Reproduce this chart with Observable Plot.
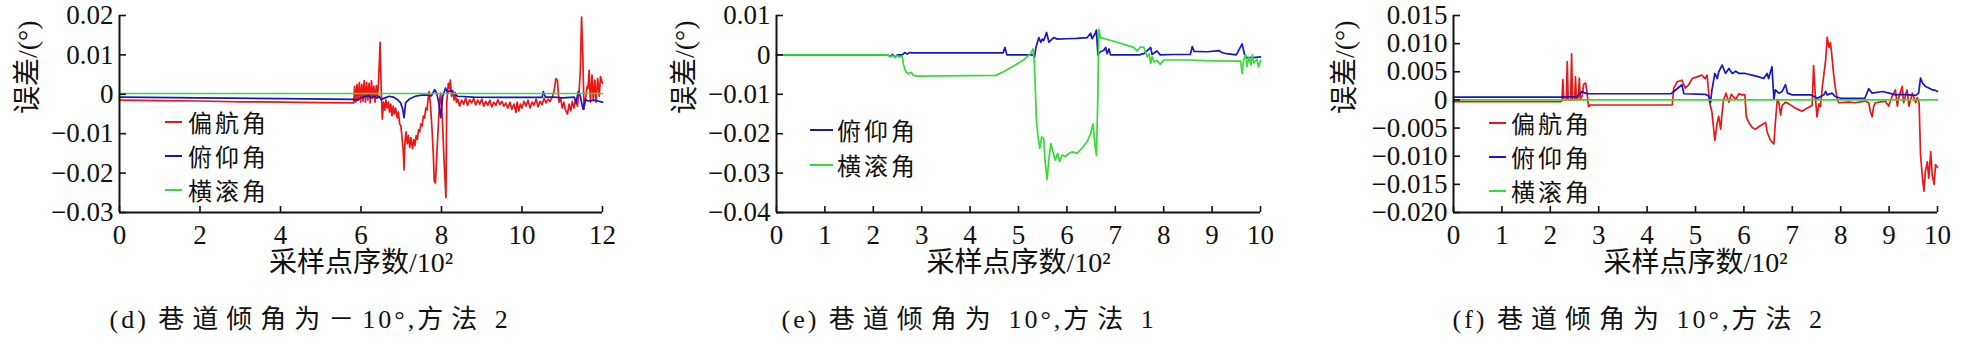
<!DOCTYPE html>
<html><head><meta charset="utf-8">
<script src="https://cdn.jsdelivr.net/npm/d3@7"></script>
<script src="https://cdn.jsdelivr.net/npm/@observablehq/plot@0.6"></script>
<style>
html,body{margin:0;padding:0;background:#fff;}
#root{position:relative;width:1966px;height:344px;overflow:hidden;background:#fff;}
.panel{position:absolute;top:0;height:344px;}
.panel svg text{font-family:"Liberation Serif","Times New Roman",Times,"DejaVu Serif",serif,"Noto Sans CJK SC" !important;}
.legend{position:absolute;display:flex;align-items:center;height:30px;font-family:"Noto Sans CJK SC",sans-serif;font-size:24px;letter-spacing:3px;color:#111;white-space:nowrap;line-height:30px;}
.legend .sw{display:inline-block;height:2px;}
</style></head><body><div id="root"></div>
<script>
// ---------- tick values & labels ----------
const dXTicks = [0, 2, 4, 6, 8, 10, 12];
const dXLabels = ["0", "2", "4", "6", "8", "10", "12"];
const dYTicks = [0.02, 0.01, 0, -0.01, -0.02, -0.03];
const dYLabels = ["0.02", "0.01", "0", "−0.01", "−0.02", "−0.03"];
const eXTicks = [0, 1, 2, 3, 4, 5, 6, 7, 8, 9, 10];
const eXLabels = ["0", "1", "2", "3", "4", "5", "6", "7", "8", "9", "10"];
const eYTicks = [0.01, 0, -0.01, -0.02, -0.03, -0.04];
const eYLabels = ["0.01", "0", "−0.01", "−0.02", "−0.03", "−0.04"];
const fXTicks = [0, 1, 2, 3, 4, 5, 6, 7, 8, 9, 10];
const fXLabels = ["0", "1", "2", "3", "4", "5", "6", "7", "8", "9", "10"];
const fYTicks = [0.015, 0.010, 0.005, 0, -0.005, -0.010, -0.015, -0.020];
const fYLabels = ["0.015", "0.010", "0.005", "0", "−0.005", "−0.010", "−0.015", "−0.020"];

// ---------- texts ----------
const xTitle = "采样点序数/10²";
const yTitle = "误差/(°)";
const captions = ["(d) 巷道倾角为－10°,方法 2", "(e) 巷道倾角为 10°,方法 1", "(f) 巷道倾角为 10°,方法 2"];
const seriesNames = ["偏航角", "俯仰角", "横滚角"];

// ---------- panel (d) series: [sample/100, error] ----------
const dYaw = [[0,-0.0015],[1,-0.0016],[2,-0.0017],[3,-0.0019],[4,-0.002],[5,-0.0021],[5.82,-0.0022],
[5.84,0.002],[5.87,-0.002],[5.9,0.0025],[5.93,-0.0015],[5.96,0.003],[5.99,-0.002],[6.02,0.0025],[6.05,-0.0018],[6.08,0.0035],[6.11,-0.002],[6.14,0.003],[6.17,-0.0015],[6.2,0.0028],[6.23,-0.0022],[6.26,0.0035],[6.29,-0.001],[6.32,0.002],[6.35,-0.002],[6.38,0.0022],[6.41,-0.001],[6.44,0.004],[6.475,0.0132],[6.5,0.002],[6.53,-0.0063],[6.56,-0.002],[6.59,-0.004],[6.62,-0.0015],[6.65,-0.0035],[6.68,-0.002],[6.71,-0.0045],[6.74,-0.0025],[6.77,-0.0055],[6.8,-0.003],[6.83,-0.005],[6.86,-0.0035],[6.9,-0.006],[6.93,-0.0045],[6.96,-0.0075],[6.99,-0.008],[7.02,-0.011],[7.05,-0.0145],[7.07,-0.0192],[7.09,-0.0125],[7.12,-0.0095],[7.15,-0.0125],[7.18,-0.0105],[7.21,-0.0135],[7.24,-0.011],[7.28,-0.0138],[7.31,-0.0115],[7.34,-0.013],[7.37,-0.0105],[7.4,-0.0115],[7.43,-0.009],[7.46,-0.0095],[7.49,-0.0075],[7.52,-0.008],[7.55,-0.0055],[7.58,-0.006],[7.61,-0.0035],[7.64,-0.004],[7.67,-0.001],[7.69,0.0007],[7.72,-0.002],[7.76,-0.008],[7.8,-0.016],[7.82,-0.022],[7.85,-0.0225],[7.88,-0.016],[7.9,-0.0121],[7.93,-0.006],[7.96,-0.001],[7.98,0.0003],[8.02,-0.006],[8.06,-0.016],[8.11,-0.0262],[8.13,-0.002],[8.17,0.0028],[8.2,0.0015],[8.22,0.0036],[8.25,-0.0005],[8.28,0.001],[8.31,-0.0015],[8.34,0.0005],[8.37,-0.002],
[8.4,-0.0012],[8.45,-0.003],[8.5,-0.0015],[8.55,-0.0025],[8.6,-0.001],[8.65,-0.0028],[8.7,-0.0014],[8.75,-0.0022],[8.8,-0.001],[8.85,-0.0027],[8.9,-0.0015],[8.95,-0.0025],[9,-0.0012],[9.05,-0.003],[9.1,-0.0018],[9.15,-0.0028],[9.2,-0.0015],[9.25,-0.0032],[9.3,-0.002],[9.35,-0.0028],[9.4,-0.0014],[9.45,-0.0026],[9.5,-0.0018],[9.55,-0.003],[9.6,-0.0022],[9.65,-0.0035],[9.7,-0.002],[9.75,-0.0038],[9.8,-0.0025],[9.85,-0.0046],[9.88,-0.002],[9.92,-0.0042],[9.96,-0.0025],[10,-0.0035],[10.05,-0.0018],[10.1,-0.003],[10.15,-0.0015],[10.2,-0.0035],[10.25,-0.002],[10.3,-0.0028],[10.35,-0.0012],[10.4,-0.0032],[10.45,-0.0018],[10.5,-0.0026],[10.55,-0.001],[10.6,-0.0022],[10.65,-0.0012],[10.7,-0.0018],[10.75,-0.0008],[10.8,0.001],[10.84,0.004],[10.88,0.0035],[10.92,-0.002],[10.96,-0.001],[11,-0.0035],[11.04,-0.002],[11.08,-0.004],[11.13,-0.005],[11.17,-0.0025],[11.21,-0.0042],[11.25,-0.0018],[11.29,-0.0035],[11.33,-0.0015],[11.38,-0.003],[11.42,0.001],[11.45,0.006],[11.48,0.0196],[11.51,0.01],[11.54,-0.0038],[11.58,-0.001],[11.62,0.002],[11.64,0.0015],[11.67,0.0061],[11.7,-0.002],[11.74,0.0049],[11.77,-0.0013],[11.81,0.0036],[11.84,-0.002],[11.88,0.004],[11.92,-0.0005],[11.95,0.0045],[12,0.0028]];
const dPitch = [[0,-0.0007],[2,-0.0009],[4,-0.0011],[5.82,-0.0013],[5.9,-0.0015],[6,-0.0009],[6.1,-0.0006],[6.2,-0.0004],[6.25,-0.0009],[6.3,-0.0005],[6.4,-0.0009],[6.45,-0.0005],[6.5,-0.0013],[6.6,-0.0009],[6.7,-0.0005],[6.8,-0.0007],[6.9,-0.0013],[6.98,-0.0021],[7.03,-0.0035],[7.07,-0.0059],[7.11,-0.0021],[7.2,-0.0012],[7.35,-0.0005],[7.5,-0.0002],[7.65,-0.0002],[7.75,-0.0004],[7.83,0.0012],[7.88,0.0003],[7.93,-0.002],[7.98,-0.0059],[8.03,-0.0005],[8.1,0.0016],[8.15,0.0005],[8.22,0.001],[8.3,0.0003],[8.4,-0.0005],[8.8,-0.0007],[9.5,-0.0008],[10.5,-0.0008],[10.53,0.0007],[10.58,-0.0007],[10.8,-0.0007],[11,-0.0009],[11.3,-0.0007],[11.34,-0.0021],[11.4,0.0007],[11.45,-0.0005],[11.48,-0.0021],[11.52,-0.0038],[11.58,-0.0013],[11.63,-0.0017],[11.8,-0.0015],[12,-0.002]];
const dRoll = [[0,0.0002],[6,0.0002],[9,0.0002],[12,0.0002]];

// ---------- panel (e) ----------
const ePitch = [[0,0],[2.3,0],[2.35,-0.0004],[2.4,0.0001],[2.45,-0.0006],[2.5,0],[2.6,0],[2.65,0.0006],[2.7,0.0002],[2.75,0.0006],[2.8,0.0005],[4.68,0.0005],[4.72,0.0019],[4.76,0],[5.3,0],[5.33,-0.0006],[5.36,0.0019],[5.42,0.0044],[5.46,0.0032],[5.49,0.004],[5.52,0.0036],[5.58,0.0057],[5.63,0.0032],[5.66,0.0036],[5.73,0.0044],[5.8,0.004],[6,0.0041],[6.2,0.0042],[6.42,0.0044],[6.49,0.0055],[6.52,0.0041],[6.58,0.0053],[6.61,0.0063],[6.64,0],[6.69,0.0008],[6.76,0.0011],[6.8,0.0019],[6.83,0.0003],[6.87,0.0015],[6.9,0],[7.5,0],[7.6,0.0004],[7.73,0.0019],[7.76,0.0001],[7.86,0.001],[7.93,0],[8.2,0.0001],[8.55,0.0001],[8.59,0.0021],[8.63,0.0009],[8.9,0.0008],[9.15,0.0011],[9.2,0.0006],[9.3,0.0003],[9.5,0],[9.62,0.0028],[9.67,0.0001],[9.72,-0.0007],[9.85,-0.0007],[10,-0.0005]];
const eRoll = [[0,0],[2.3,0],[2.35,-0.0005],[2.4,-0.0002],[2.45,-0.0007],[2.5,-0.0002],[2.55,-0.0006],[2.6,-0.0003],[2.62,-0.0023],[2.66,-0.004],[2.72,-0.0048],[2.78,-0.0044],[2.83,-0.0052],[2.9,-0.0054],[4.53,-0.0052],[4.7,-0.0042],[4.9,-0.0028],[5.1,-0.0013],[5.25,0.0003],[5.3,0.0015],[5.33,-0.0022],[5.37,-0.0164],[5.4,-0.0205],[5.44,-0.0237],[5.48,-0.0208],[5.52,-0.0212],[5.55,-0.027],[5.59,-0.0316],[5.63,-0.0262],[5.67,-0.0225],[5.71,-0.0246],[5.76,-0.0267],[5.81,-0.025],[5.85,-0.0271],[5.9,-0.0254],[5.97,-0.0258],[6.04,-0.025],[6.11,-0.0246],[6.21,-0.025],[6.31,-0.0237],[6.42,-0.022],[6.49,-0.0199],[6.54,-0.0175],[6.58,-0.0229],[6.61,-0.0256],[6.64,-0.01],[6.66,0.0065],[6.69,0.0044],[7.04,0.0032],[7.38,0.0019],[7.45,0.001],[7.52,0.002],[7.59,0.0019],[7.66,-0.0005],[7.7,0.0003],[7.73,-0.0022],[7.76,-0.0005],[7.8,-0.0018],[7.86,-0.0014],[7.93,-0.0024],[8,-0.0013],[8.2,-0.0013],[8.5,-0.0013],[9,-0.0015],[9.45,-0.0016],[9.59,-0.0016],[9.62,-0.0047],[9.65,-0.0014],[9.69,0.0001],[9.72,-0.003],[9.76,-0.0006],[9.8,-0.0026],[9.83,0.0001],[9.86,-0.002],[9.93,-0.0011],[9.96,-0.0031],[10,-0.0014]];

// ---------- panel (f) ----------
const fYaw = [[0,-0.0003],[1,-0.0003],[2.22,-0.0003],[2.24,-0.0002],[2.26,0.0036],[2.28,0],[2.33,0],[2.35,0.0068],[2.37,0],[2.42,0],[2.44,0.0082],[2.46,0],[2.5,0],[2.52,0.0041],[2.54,0],[2.58,0.0005],[2.6,0.0039],[2.62,0],[2.66,0.0008],[2.69,0.0028],[2.73,0.003],[2.76,0.0012],[2.79,-0.0012],[2.83,-0.0009],[4.52,-0.0009],[4.55,0.0021],[4.62,0.0032],[4.72,0.0035],[4.79,0.0021],[4.86,0.0027],[4.93,0.0038],[5.03,0.0041],[5.13,0.0044],[5.2,0.0038],[5.24,0.0044],[5.29,-0.0004],[5.34,-0.0022],[5.4,-0.0072],[5.45,-0.004],[5.48,-0.0029],[5.52,-0.0052],[5.55,-0.0023],[5.58,0],[5.63,0.0012],[5.69,-0.0004],[5.74,0.001],[5.83,0.0001],[5.9,0.0011],[5.96,0.0009],[6.02,0.0009],[6.05,-0.003],[6.1,-0.004],[6.17,-0.0049],[6.24,-0.0052],[6.34,-0.0046],[6.45,-0.004],[6.48,-0.0057],[6.55,-0.0072],[6.62,-0.0078],[6.65,-0.004],[6.69,0.0001],[6.72,-0.0004],[6.76,-0.0027],[6.79,-0.001],[6.86,-0.0004],[6.93,-0.0007],[7.07,-0.0015],[7.2,-0.002],[7.34,-0.0013],[7.41,-0.001],[7.44,0.0061],[7.48,0.0001],[7.51,-0.003],[7.55,-0.0007],[7.58,-0.0012],[7.62,0.0023],[7.69,0.0071],[7.72,0.0111],[7.76,0.0093],[7.79,0.0102],[7.82,0.0076],[7.86,0.0041],[7.89,0.0021],[7.93,0.0001],[7.96,-0.0005],[8.17,-0.0004],[8.3,-0.0005],[8.5,-0.0002],[8.58,-0.0005],[8.61,-0.002],[8.65,-0.003],[8.68,-0.0012],[8.72,-0.0005],[8.92,-0.0002],[8.99,-0.0011],[9.06,0.0006],[9.13,0.0018],[9.17,-0.0011],[9.2,0.0004],[9.27,0.0024],[9.3,-0.0005],[9.37,0.0018],[9.41,-0.0011],[9.48,0.0012],[9.55,-0.0005],[9.58,0.0004],[9.62,-0.0005],[9.65,-0.0098],[9.69,-0.0139],[9.72,-0.0162],[9.75,-0.0127],[9.79,-0.011],[9.82,-0.0139],[9.86,-0.0092],[9.89,-0.0133],[9.93,-0.015],[9.96,-0.0115],[10,-0.012]];
const fPitch = [[0,0.0005],[2.2,0.0005],[2.55,0.0006],[2.66,0.0015],[2.72,0.0012],[2.8,0.0011],[4.5,0.0011],[4.55,0.0015],[4.72,0.0027],[4.76,0.0011],[5.2,0.001],[5.27,0.0007],[5.31,-0.0005],[5.34,0.0018],[5.4,0.0047],[5.45,0.0038],[5.48,0.005],[5.55,0.0062],[5.62,0.0047],[5.69,0.0056],[5.76,0.0047],[5.83,0.0051],[5.9,0.0047],[6.03,0.0047],[6.17,0.0044],[6.31,0.0041],[6.41,0.0038],[6.48,0.0047],[6.51,0.0038],[6.58,0.0059],[6.62,0.0001],[6.65,0.0018],[6.72,0.0012],[6.79,0.0015],[6.86,0.0027],[6.9,0.0012],[7,0.0009],[7.38,0.0009],[7.45,0.0006],[7.52,0.0003],[7.65,0.0009],[7.69,0.0015],[7.72,0.0009],[7.82,0.0012],[7.89,0.0006],[8,0.0003],[8.5,0.0003],[8.58,0.002],[8.65,0.0012],[8.86,0.0015],[9,0.0012],[9.13,0.0009],[9.27,0.001],[9.41,0.0009],[9.55,0.0008],[9.61,0.0012],[9.65,0.0039],[9.69,0.003],[9.75,0.0024],[9.82,0.0021],[9.89,0.0018],[9.96,0.0017],[10,0.0015]];
const fRoll = [[0,0],[5,0],[10,0]];

// ---------- styling ----------
const COL = {yaw: "#f01414", pitch: "#1616c4", roll: "#33dd33"};
const FONT = '"Liberation Serif","Times New Roman",Times,"DejaVu Serif",serif,"Noto Sans CJK SC"';
const FRAME_TOP = 15, FRAME_BOTTOM = 212, SVG_H = 344;

const panels = [
  {frameLeft: 119, frameRight: 602, marginLeft: 119, marginRight: 40,
   xDomain: [0, 12], yDomain: [-0.03, 0.02], xTicks: dXTicks, xLabels: dXLabels, yTicks: dYTicks, yLabels: dYLabels,
   series: [[dYaw, COL.yaw], [dPitch, COL.pitch], [dRoll, COL.roll]],
   caption: captions[0], captionDx: -10, yTitleDx: -91,
   legend: {left: 165, sw: 17, gap: 6, rows: [122, 156, 190], items: [0, 1, 2]}},
  {frameLeft: 776, frameRight: 1260, marginLeft: 140, marginRight: 40,
   xDomain: [0, 10], yDomain: [-0.04, 0.01], xTicks: eXTicks, xLabels: eXLabels, yTicks: eYTicks, yLabels: eYLabels,
   series: [[ePitch, COL.pitch], [eRoll, COL.roll]],
   caption: captions[1], captionDx: 5, yTitleDx: -91,
   legend: {left: 810, sw: 23, gap: 4, rows: [130, 165], items: [1, 2]}},
  {frameLeft: 1453, frameRight: 1937, marginLeft: 140, marginRight: 29,
   xDomain: [0, 10], yDomain: [-0.02, 0.015], xTicks: fXTicks, xLabels: fXLabels, yTicks: fYTicks, yLabels: fYLabels,
   series: [[fYaw, COL.yaw], [fPitch, COL.pitch], [fRoll, COL.roll]],
   caption: captions[2], captionDx: -1, yTitleDx: -108,
   legend: {left: 1489, sw: 17, gap: 5, rows: [123, 157, 191], items: [0, 1, 2]}}
];
const legendColors = [COL.yaw, COL.pitch, COL.roll];

// split caption into runs: CJK runs are spaced wider than Latin runs
function spaceCaption(textEl, str) {
  const runs = str.match(/[\u3000-\u9fff\uff00-\uffef]+|[^\u3000-\u9fff\uff00-\uffef]+/g);
  const sel = d3.select(textEl);
  sel.text(null);
  for (const r of runs) {
    const cjk = /[\u3000-\u9fff\uff00-\uffef]/.test(r);
    sel.append("tspan").attr("letter-spacing", cjk ? "8px" : "3px").text(r);
  }
}

const root = document.getElementById("root");
for (const p of panels) {
  const W = p.frameRight - p.frameLeft;
  const H = FRAME_BOTTOM - FRAME_TOP;
  const width = p.marginLeft + W + p.marginRight;
  const svg = Plot.plot({
    width, height: SVG_H,
    marginTop: FRAME_TOP, marginBottom: SVG_H - FRAME_BOTTOM,
    marginLeft: p.marginLeft, marginRight: p.marginRight,
    x: {domain: p.xDomain},
    y: {domain: p.yDomain},
    style: {background: "transparent", fontFamily: FONT, fontSize: "27px", color: "#111", overflow: "visible", maxWidth: "none"},
    marks: [
      ...p.series.map(([data, c]) => Plot.line(data, {x: d => d[0], y: d => d[1], stroke: c, strokeWidth: 1.7})),
      Plot.ruleX([p.xDomain[0]], {stroke: "#111", strokeWidth: 2}),
      Plot.ruleY([p.yDomain[0]], {stroke: "#111", strokeWidth: 2}),
      Plot.tickX(p.xTicks, {x: d => d, insetTop: H - 6, stroke: "#111", strokeWidth: 1.6}),
      Plot.tickY(p.yTicks, {y: d => d, insetRight: W - 7, stroke: "#111", strokeWidth: 1.6}),
      Plot.axisX({ticks: p.xTicks, tickFormat: d => p.xLabels[p.xTicks.indexOf(d)], tickSize: 0, tickPadding: 12, label: null, fontSize: 27}),
      Plot.axisY({ticks: p.yTicks, tickFormat: d => p.yLabels[p.yTicks.indexOf(d)], tickSize: 0, tickPadding: 6, label: null, fontSize: 27}),
      Plot.text([xTitle], {text: d => d, frameAnchor: "bottom", dy: 59, fontSize: 28}),
      Plot.text([yTitle], {text: d => d, frameAnchor: "left", rotate: -90, dx: p.yTitleDx, fontSize: 28}),
      Plot.text([p.caption], {text: d => d, frameAnchor: "bottom-left", textAnchor: "start", dx: p.captionDx, dy: 115, fontSize: 26})
    ]
  });
  d3.select(svg).selectAll("text").filter(function () { return this.textContent === p.caption; })
    .each(function () { spaceCaption(this, p.caption); });
  const div = document.createElement("div");
  div.className = "panel";
  div.style.left = (p.frameLeft - p.marginLeft) + "px";
  div.style.width = width + "px";
  div.appendChild(svg);
  root.appendChild(div);

  // legend
  p.legend.items.forEach((k, i) => {
    const item = document.createElement("div");
    item.className = "legend";
    item.style.left = p.legend.left + "px";
    item.style.top = (p.legend.rows[i] - 15) + "px";
    const sw = document.createElement("span");
    sw.className = "sw";
    sw.style.width = p.legend.sw + "px";
    sw.style.background = legendColors[k];
    sw.style.marginRight = p.legend.gap + "px";
    const tx = document.createElement("span");
    tx.textContent = seriesNames[k];
    item.appendChild(sw);
    item.appendChild(tx);
    root.appendChild(item);
  });
}
</script></body></html>
